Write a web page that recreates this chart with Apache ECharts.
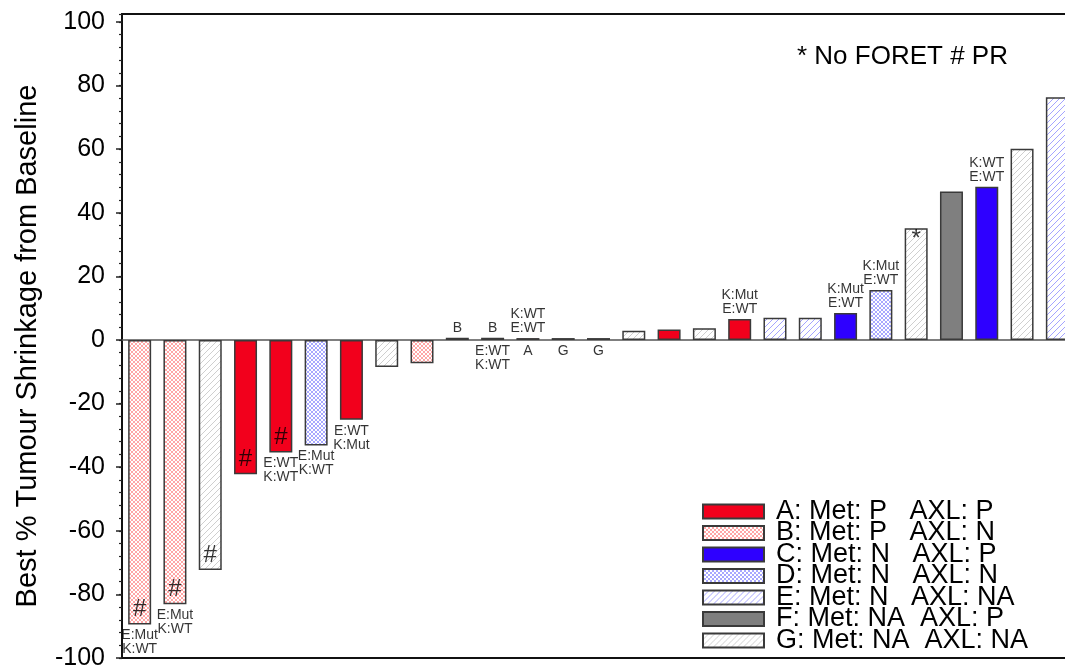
<!DOCTYPE html>
<html>
<head>
<meta charset="utf-8">
<script src="https://cdn.jsdelivr.net/npm/echarts@6/dist/echarts.min.js"></script>
<style>
html,body{margin:0;padding:0;background:#fff;}
#chart{width:1065px;height:671px;}
</style>
</head>
<body>
<div id="chart"></div>
<script>
// ---- data ----
const categories = ['P1','P2','P3','P4','P5','P6','P7','P8','P9','P10','P11','P12','P13','P14','P15','P16','P17','P18','P19','P20','P21','P22','P23','P24','P25','P26','P27'];
const groups = ['B','B','G','A','A','D','A','G','B','B','B','A','G','G','G','A','G','A','E','E','C','D','G','F','C','G','E'];
const values = [-89.5,-83.1,-72.3,-42.2,-35.4,-33.2,-25.1,-8.5,-7.3,0.7,0.7,0.6,0.6,0.6,2.9,3.3,3.7,6.6,7.0,7.0,8.5,15.7,35.1,46.7,48.2,60.1,76.3];
const insideMarks = ['#','#','#','#','#','','','','','','','','','','','','','','','','','','*','','','',''];
const aboveText = ['','','','','','','','','','B','B','K:WT\nE:WT','','','','','','K:Mut\nE:WT','','','K:Mut\nE:WT','K:Mut\nE:WT','','','K:WT\nE:WT','',''];
const belowText = ['E:Mut\nK:WT','E:Mut\nK:WT','','','E:WT\nK:WT','E:Mut\nK:WT','E:WT\nK:Mut','','','','E:WT\nK:WT','A','G','G','','','','','','','','','','','','',''];
const groupKeys = ['A','B','C','D','E','F','G'];
const legendLabels = ['A: Met: P   AXL: P','B: Met: P   AXL: N','C: Met: N   AXL: P','D: Met: N   AXL: N','E: Met: N   AXL: NA','F: Met: NA  AXL: P','G: Met: NA  AXL: NA'];
const yTicks = [-100,-80,-60,-40,-20,0,20,40,60,80,100];
const noteText = '* No FORET # PR';
const yAxisTitle = 'Best % Tumour Shrinkage from Baseline';

// ---- styles ----
const FONT = 'Liberation Sans, Arial, sans-serif';
function pattern(color, kind, size) {
  const c = document.createElement('canvas');
  c.width = size; c.height = size;
  const ctx = c.getContext('2d');
  ctx.fillStyle = '#fff';
  ctx.fillRect(0, 0, size, size);
  ctx.strokeStyle = color;
  ctx.lineWidth = 1;
  const diag = () => {
    ctx.beginPath();
    ctx.moveTo(-1, size + 1); ctx.lineTo(size + 1, -1);
    ctx.moveTo(-1, 1); ctx.lineTo(1, -1);
    ctx.moveTo(size - 1, size + 1); ctx.lineTo(size + 1, size - 1);
    ctx.stroke();
  };
  const anti = () => {
    ctx.beginPath();
    ctx.moveTo(-1, -1); ctx.lineTo(size + 1, size + 1);
    ctx.moveTo(size - 1, -1); ctx.lineTo(size + 1, 1);
    ctx.moveTo(-1, size - 1); ctx.lineTo(1, size + 1);
    ctx.stroke();
  };
  diag();
  if (kind === 'cross') anti();
  return { image: c, repeat: 'repeat' };
}
const fills = {
  A: '#f2001c',
  B: pattern('#ffa6a6', 'cross', 4),
  C: '#2e00ff',
  D: pattern('#a8a8ff', 'cross', 4),
  E: pattern('#a4a4ff', 'diag', 6),
  F: '#7f7f7f',
  G: pattern('#cfcfcf', 'diag', 6)
};

const barSeries = groupKeys.map((g, gi) => ({
  name: legendLabels[gi],
  type: 'bar',
  barWidth: 23,
  barGap: '-100%',
  itemStyle: { color: fills[g], borderColor: '#3a3a3a', borderWidth: 1.5 },
  data: values.map((v, i) => groups[i] === g ? v : '-'),
  z: 2
}));

const annFont = { fontFamily: FONT, fontSize: 14, lineHeight: 14, color: '#000' };

const aboveSeries = {
  type: 'scatter', symbolSize: 0, silent: true, z: 5,
  data: values.map((v, i) => aboveText[i] ? { value: [i, Math.max(v, 0)], label: { formatter: aboveText[i] } } : null).filter(Boolean),
  label: Object.assign({ show: true, position: 'top', distance: 3 }, annFont)
};
const belowSeries = {
  type: 'scatter', symbolSize: 0, silent: true, z: 5,
  data: values.map((v, i) => belowText[i] ? { value: [i, Math.min(v, 0)], label: { formatter: belowText[i] } } : null).filter(Boolean),
  label: Object.assign({ show: true, position: 'bottom', distance: 4 }, annFont)
};
const markSeries = {
  type: 'scatter', symbolSize: 0, silent: true, z: 5,
  data: values.map((v, i) => insideMarks[i] ? {
    value: [i, v],
    label: { formatter: insideMarks[i], position: v < 0 ? 'top' : 'bottom', distance: v < 0 ? 3 : -1 }
  } : null).filter(Boolean),
  label: { show: true, fontFamily: FONT, fontSize: 24, color: '#000' }
};

const chart = echarts.init(document.getElementById('chart'), null, { renderer: 'canvas' });
chart.setOption({
  animation: false,
  backgroundColor: '#fff',
  textStyle: { fontFamily: FONT },
  title: {
    text: noteText, left: 797, top: 44, padding: 0,
    textStyle: { fontSize: 26, fontWeight: 'normal', color: '#000', fontFamily: FONT }
  },
  legend: {
    data: legendLabels,
    orient: 'vertical',
    left: 702, top: 498, padding: 0,
    itemWidth: 61, itemHeight: 14, itemGap: -5.5,
    icon: 'rect',
    selectedMode: false,
    textStyle: { fontSize: 27, color: '#000', fontFamily: FONT, padding: [0, 0, 0, 7] }
  },
  grid: {
    left: 122, top: 14, width: 953, height: 644,
    outerBoundsMode: 'none', containLabel: false,
    show: true, borderColor: '#111', borderWidth: 2
  },
  xAxis: {
    type: 'category', data: categories,
    axisLine: { onZero: true, lineStyle: { color: '#555', width: 1.5 } },
    axisTick: { show: false }, axisLabel: { show: false }, splitLine: { show: false }
  },
  yAxis: [{
    type: 'value', min: -100, max: 102.5, interval: 20, position: 'left', offset: 0,
    name: yAxisTitle, nameLocation: 'middle', nameGap: 80,
    nameTextStyle: { fontSize: 29, color: '#000', fontFamily: FONT, padding: [0, 20, 0, 0] },
    axisLine: { show: true, onZero: false, lineStyle: { color: '#111', width: 2 } },
    axisTick: { show: true, length: 6, customValues: yTicks, lineStyle: { color: '#222', width: 1.5 } },
    axisLabel: { customValues: yTicks, fontSize: 25, color: '#000', margin: 17, fontFamily: FONT },
    splitLine: { show: false }
  }, {
    type: 'value', min: -100, max: 102.5, interval: 4, position: 'left', offset: 0,
    axisLine: { show: false },
    axisTick: { show: true, length: 3, lineStyle: { color: '#222', width: 1.2 } },
    axisLabel: { show: false },
    splitLine: { show: false }
  }],
  series: barSeries.concat([aboveSeries, belowSeries, markSeries])
});
</script>
</body>
</html>
